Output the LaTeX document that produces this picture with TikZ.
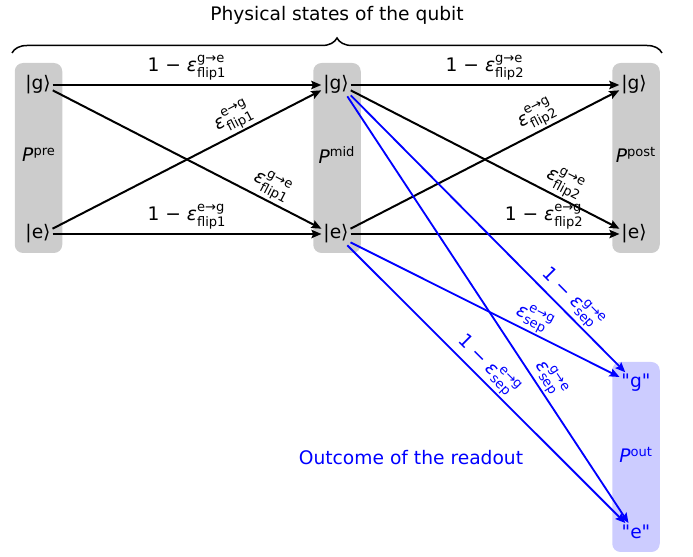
\documentclass[tikz,border=0pt]{standalone}
\usepackage{amsmath}
\usepackage{fontspec}
\setmainfont{DejaVu Sans}
\newfontfamily\quotefont{DejaVu Sans}
\usetikzlibrary{arrows.meta,decorations.pathreplacing}

\newcommand{\eps}[2]{$\textit{ε}^{\text{#1}}_{\text{#2}}$}
\newcommand{\omeps}[2]{1 − \eps{#1}{#2}}

\begin{document}
\begin{tikzpicture}[x=0.6pt,y=-0.6pt,font=\fontsize{11.2}{13}\selectfont,
  statebox/.style={fill=black!20,rounded corners=5pt,minimum width=28.5pt,minimum height=114pt,inner sep=0pt},
  outbox/.style={fill=blue!20,rounded corners=5pt,minimum width=28.5pt,minimum height=114pt,inner sep=0pt},
  ket/.style={inner sep=1pt},
  flip/.style={line width=1.2pt,-{Stealth[length=6pt,width=5pt,inset=1pt]}},
  readout/.style={blue,line width=1.1pt,-{Stealth[length=6pt,width=5pt,inset=1pt]}},
  lab/.style={sloped,above,inner sep=1pt}]
  \useasboundingbox (0,0) rectangle (693,557);

  % boxes
  \node[statebox] (boxpre) at (38.5,158) {};
  \node[statebox] (boxmid) at (337,158) {};
  \node[statebox] (boxpost) at (636,158) {};
  \node[outbox] (boxout) at (636,457) {};

  % states
  \node[ket] (gpre) at (38,85) {|g⟩};
  \node[ket] (epre) at (38,234) {|e⟩};
  \node[ket] (gmid) at (336,85) {|g⟩};
  \node[ket] (emid) at (336,234) {|e⟩};
  \node[ket] (gpost) at (634,85) {|g⟩};
  \node[ket] (epost) at (634,234) {|e⟩};
  \node[ket,blue] (og) at (636,383) {\quotefont"g"};
  \node[ket,blue] (oe) at (636,532) {\quotefont"e"};

  \node (ppre) at (39,155) {\textit{P}\textsuperscript{pre}};
  \node (pmid) at (337,155) {\textit{P}\textsuperscript{mid}};
  \node (ppost) at (636,155) {\textit{P}\textsuperscript{post}};
  \node[blue] (pout) at (636,455) {\textit{P}\textsuperscript{out}};

  % brace and titles
  \coordinate (braceL) at (12,53);
  \coordinate (braceR) at (662,53);
  \draw[line width=0.9pt,decorate,decoration={brace,amplitude=9pt}] (braceL) -- (braceR);
  \node (title) at (337,15) {Physical states of the qubit};
  \node[blue] (outtitle) at (411,458) {Outcome of the readout};

  % first flip
  \draw[flip] (gpre.east) -- node[above,inner sep=2pt] {\omeps{g→e}{flip1}} (gmid.west);
  \draw[flip] (epre.east) -- node[above,inner sep=2pt] {\omeps{e→g}{flip1}} (emid.west);
  \draw[flip] (gpre.-20) -- node[lab,pos=0.79] {\eps{g→e}{flip1}} (emid.160);
  \draw[flip] (epre.20) -- node[lab,pos=0.7] {\eps{e→g}{flip1}} (gmid.200);

  % second flip
  \draw[flip] (gmid.east) -- node[above,inner sep=2pt] {\omeps{g→e}{flip2}} (gpost.west);
  \draw[flip] (emid.east) -- node[above,inner sep=2pt,pos=0.72] {\omeps{e→g}{flip2}} (epost.west);
  \draw[flip] (gmid.-20) -- node[lab,pos=0.77] {\eps{g→e}{flip2}} (epost.160);
  \draw[flip] (emid.20) -- node[lab,pos=0.72] {\eps{e→g}{flip2}} (gpost.200);

  % readout
  \draw[readout] (gmid.-35) -- node[lab,pos=0.77] {\omeps{g→e}{sep}} (og.135);
  \draw[readout] (gmid.-45) -- node[lab,pos=0.68] {\eps{g→e}{sep}} (oe.130);
  \draw[readout] (emid.-30) -- node[lab,pos=0.66] {\eps{e→g}{sep}} (og.160);
  \draw[readout] (emid.-45) -- node[lab,pos=0.47] {\omeps{e→g}{sep}} (oe.140);
\end{tikzpicture}
\end{document}
